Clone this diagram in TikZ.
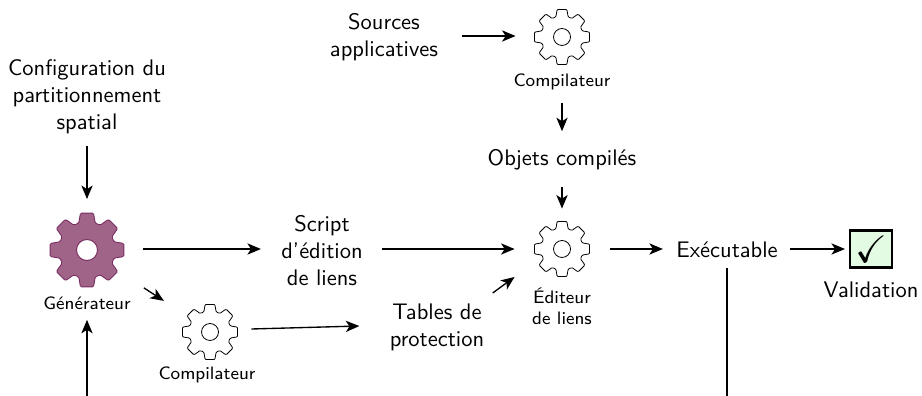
\documentclass[tikz,border=0pt]{standalone}
\usepackage{amssymb}
\usetikzlibrary{arrows.meta,calc}
\definecolor{gearfill}{HTML}{A06488}
\definecolor{gearline}{HTML}{7A2E62}
\definecolor{okfill}{HTML}{E2FBE2}
\renewcommand{\familydefault}{\sfdefault}
\tikzset{
  arr/.style={-{Stealth[length=6pt,width=5pt,inset=1.6pt]},line width=0.6pt},
  plainline/.style={line width=0.6pt},
  txt/.style={align=center,inner sep=0pt},
  lbl/.style={align=center,inner sep=0pt,font=\footnotesize},
  gearnode/.style={circle,inner sep=0pt,minimum size=#1*2*0.4444pt},
  okbox/.style={draw=black,line width=1.1pt,fill=okfill,minimum width=18.5pt,minimum height=16.5pt,inner sep=0pt},
  gearwhite/.style={draw=black,line width=0.35pt,fill=white},
  gearpurple/.style={draw=gearline,line width=0.4pt,fill=gearfill}
}
% \geardraw{node}{outer radius in px}{style}{hole radius}
\newcommand{\geardraw}[4]{%
  \path[#3,even odd rule]
    [rounded corners=#2*0.035*0.4444pt]
    ($(#1)+(107:#2*0.75)$)
      -- ($(#1)+(100:#2)$) -- ($(#1)+(80:#2)$) -- ($(#1)+(73:#2*0.75)$)
    \foreach \a in {45,0,-45,-90,-135,-180,-225}{
      -- ($(#1)+(\a+17:#2*0.75)$)
      -- ($(#1)+(\a+10:#2)$)
      -- ($(#1)+(\a-10:#2)$)
      -- ($(#1)+(\a-17:#2*0.75)$)
    } -- cycle
    [sharp corners]
    ($(#1)+(#4,0)$) arc[start angle=0,end angle=360,radius=#4];
}
\begin{document}
\begin{tikzpicture}[x=0.4444pt,y=-0.4444pt]
\useasboundingbox (0,0) rectangle (922,396);
% text nodes
\node[txt] (config) at (87,97) {Configuration du\\partitionnement\\spatial};
\node[txt] (sources) at (384,37) {Sources\\applicatives};
\node[txt] (objets) at (562,160) {Objets compilés};
\node[txt] (script) at (322,251) {Script\\d'édition\\de liens};
\node[txt] (tables) at (437,327) {Tables de\\protection};
\node[txt] (exec) at (727,250) {Exécutable};
\node[okbox] (valid) at (871,249) {\scalebox{1.7}{$\checkmark$}};
\node[txt] (validlbl) at (871,290) {Validation};
% gears
\node[gearnode=37.5] (gen) at (87,250) {};
\node[gearnode=28] (comp1) at (562,37) {};
\node[gearnode=28] (comp2) at (210,332) {};
\node[gearnode=28] (edit) at (562,249) {};
\geardraw{gen}{37.5}{gearpurple}{10.5}
\geardraw{comp1}{28}{gearwhite}{8.5}
\geardraw{comp2}{28}{gearwhite}{8.5}
\geardraw{edit}{28}{gearwhite}{8.5}
% gear labels
\node[lbl] (genlbl) at (87,303) {Générateur};
\node[lbl] (comp1lbl) at (562,82) {Compilateur};
\node[lbl] (comp2lbl) at (207,375) {Compilateur};
\node[lbl] (editlbl) at (562,306) {Éditeur\\de liens};
% free ends
\coordinate (botA) at (87,396);
\coordinate (botB) at (727,396);
% connectors
\draw[arr] ($(config.south)+(0,11)$) -- ($(gen.north)+(0,-13)$);
\draw[arr] (botA) -- ($(genlbl.south)+(0,10)$);
\draw[arr] ($(gen.east)+(18,-1)$) -- ($(script.west)+(-20,-2)$);
\draw[arr] ($(gen.south east)+(30,11)$) -- ($(comp2.north west)+(-26,-11)$);
\draw[arr] ($(comp2.east)+(13,-3)$) -- ($(tables.west)+(-30,-1)$);
\draw[arr] ($(script.east)+(19,-2)$) -- ($(edit.west)+(-19,0)$);
\draw[arr] ($(tables.east)+(8,-34)$) -- ($(edit.west)+(-19,28)$);
\draw[arr] ($(sources.east)+(23,-1)$) -- ($(comp1.west)+(-18,-1)$);
\draw[arr] ($(comp1lbl.south)+(0,12)$) -- ($(objets.north)+(0,-18)$);
\draw[arr] ($(objets.south)+(0,16)$) -- ($(edit.north)+(0,-12)$);
\draw[arr] ($(edit.east)+(20,0)$) -- ($(exec.west)+(-13,-1)$);
\draw[arr] ($(exec.east)+(12,-1)$) -- ($(valid.west)+(-4,0)$);
\draw[plainline] ($(exec.south)+(0,10)$) -- (botB);
\end{tikzpicture}
\end{document}
